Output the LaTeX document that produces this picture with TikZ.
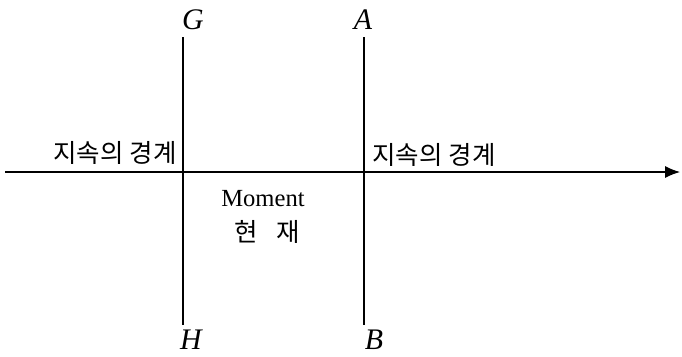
\documentclass[tikz,border=0pt]{standalone}
\usepackage{fontspec}
\setmainfont{Liberation Serif}
\newfontfamily\kofont{Noto Sans CJK KR}
\usetikzlibrary{arrows.meta}

\begin{document}
\begin{tikzpicture}[
  x=0.02cm, y=-0.02cm,
  pt/.style={font=\fontsize{17}{19}\selectfont\itshape, inner sep=0pt},
  ko/.style={font=\kofont\fontsize{14.5}{17}\selectfont, inner sep=0pt},
  en/.style={font=\fontsize{14}{16}\selectfont, inner sep=0pt},
  ln/.style={line width=0.6pt},
  a/.style={-{Latex[length=3mm,width=2.4mm]}, line width=0.6pt}
]
\useasboundingbox (0,0) rectangle (682,356);

% time axis
\coordinate (start) at (5,172);
\coordinate (stop) at (680,172);
\draw[a] (start) -- (stop);

% boundaries
\coordinate (gtop) at (183,37);
\coordinate (hbot) at (183,325);
\coordinate (atop) at (364,37);
\coordinate (bbot) at (364,325);
\draw[ln] (gtop) -- (hbot);
\draw[ln] (atop) -- (bbot);

\node[pt] (G) at (193,20) {G};
\node[pt] (A) at (363,20) {A};
\node[pt] (H) at (191,340) {H};
\node[pt] (B) at (374,340) {B};

\node[ko] (leftb) at (115,153) {지속의 경계};
\node[ko] (rightb) at (434,155) {지속의 경계};
\node[en] (moment) at (263,199) {Moment};
\node[ko] (now) at (267,232) {현\hspace{0.75em}재};

\end{tikzpicture}
\end{document}
